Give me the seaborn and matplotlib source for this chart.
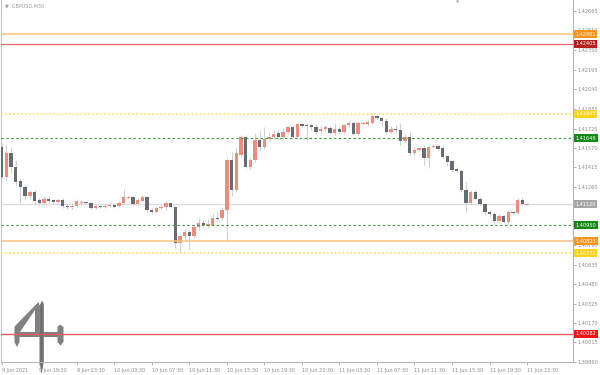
import numpy as np
import pandas as pd
import matplotlib
matplotlib.use("Agg")
import matplotlib.pyplot as plt
import matplotlib.transforms as mtransforms
from matplotlib.patches import Polygon
import seaborn as sns

# ---------------- data (GBPUSD, M30) ----------------
opens = [1.41577, 1.41337, 1.41529, 1.41417, 1.41305, 1.41257, 1.41185, 1.41217, 1.41153, 1.41129,
         1.41161, 1.41153, 1.41137, 1.41153, 1.41105, 1.41097, 1.41105, 1.41129, 1.41137, 1.41129,
         1.41089, 1.41105, 1.41097, 1.41105, 1.41113, 1.41105, 1.41129, 1.41169, 1.41177, 1.41121,
         1.41145, 1.41177, 1.41073, 1.41057, 1.41089, 1.41097, 1.41129, 1.41097, 1.40809, 1.40865,
         1.40897, 1.40865, 1.40937, 1.40969, 1.40945, 1.40953, 1.41009, 1.41009, 1.41073, 1.41473,
         1.41233, 1.41513, 1.41657, 1.41417, 1.41473, 1.41633, 1.41577, 1.41641, 1.41657, 1.41689,
         1.41657, 1.41697, 1.41737, 1.41657, 1.41761, 1.41753, 1.41753, 1.41737, 1.41705, 1.41721,
         1.41729, 1.41689, 1.41721, 1.41697, 1.41753, 1.41769, 1.41681, 1.41761, 1.41761, 1.41769,
         1.41825, 1.41809, 1.41785, 1.41697, 1.41721, 1.41713, 1.41625, 1.41657, 1.41529, 1.41553,
         1.41569, 1.41489, 1.41577, 1.41585, 1.41569, 1.41505, 1.41465, 1.41401, 1.41385, 1.41233,
         1.41129, 1.41217, 1.41161, 1.41121, 1.41057, 1.41041, 1.40985, 1.41025, 1.40977, 1.41057,
         1.41049, 1.41153, 1.41115]
highs = [1.41609, 1.41593, 1.41577, 1.41473, 1.41329, 1.41273, 1.41233, 1.41233, 1.41169, 1.41185,
         1.41177, 1.41161, 1.41169, 1.41169, 1.41121, 1.41129, 1.41161, 1.41153, 1.41145, 1.41145,
         1.41113, 1.41113, 1.41121, 1.41129, 1.41129, 1.41145, 1.41241, 1.41185, 1.41185, 1.41169,
         1.41193, 1.41185, 1.41089, 1.41105, 1.41113, 1.41145, 1.41137, 1.41105, 1.40881, 1.40921,
         1.40913, 1.40953, 1.41009, 1.40993, 1.41001, 1.41049, 1.41057, 1.41097, 1.41497, 1.41537,
         1.41569, 1.41673, 1.41673, 1.41489, 1.41689, 1.41713, 1.41737, 1.41697, 1.41713, 1.41721,
         1.41729, 1.41745, 1.41753, 1.41769, 1.41777, 1.41769, 1.41761, 1.41753, 1.41745, 1.41753,
         1.41745, 1.41769, 1.41737, 1.41761, 1.41785, 1.41785, 1.41785, 1.41785, 1.41793, 1.41841,
         1.41841, 1.41825, 1.41809, 1.41745, 1.41753, 1.41769, 1.41681, 1.41697, 1.41577, 1.41585,
         1.41593, 1.41585, 1.41601, 1.41601, 1.41593, 1.41513, 1.41473, 1.41417, 1.41401, 1.41297,
         1.41233, 1.41233, 1.41177, 1.41129, 1.41073, 1.41057, 1.41041, 1.41033, 1.41073, 1.41065,
         1.41169, 1.41177, 1.41129]
lows = [1.41321, 1.41313, 1.41369, 1.41273, 1.41129, 1.41153, 1.41161, 1.41121, 1.41113, 1.41113,
        1.41129, 1.41121, 1.41129, 1.41089, 1.41081, 1.41081, 1.41097, 1.41113, 1.41121, 1.41081,
        1.41081, 1.41089, 1.41089, 1.41097, 1.41089, 1.41097, 1.41121, 1.41161, 1.41105, 1.41113,
        1.41137, 1.41057, 1.41041, 1.41049, 1.41081, 1.41073, 1.41089, 1.40769, 1.40729, 1.40825,
        1.40753, 1.40849, 1.40913, 1.40937, 1.40929, 1.40945, 1.40985, 1.40993, 1.40817, 1.41185,
        1.41217, 1.41497, 1.41409, 1.41401, 1.41457, 1.41553, 1.41561, 1.41625, 1.41641, 1.41633,
        1.41641, 1.41681, 1.41649, 1.41641, 1.41737, 1.41625, 1.41713, 1.41681, 1.41689, 1.41705,
        1.41673, 1.41673, 1.41681, 1.41681, 1.41737, 1.41673, 1.41665, 1.41753, 1.41745, 1.41761,
        1.41801, 1.41745, 1.41681, 1.41689, 1.41697, 1.41593, 1.41609, 1.41513, 1.41513, 1.41545,
        1.41433, 1.41409, 1.41569, 1.41545, 1.41481, 1.41433, 1.41377, 1.41377, 1.41217, 1.41057,
        1.41113, 1.41153, 1.41105, 1.41041, 1.41025, 1.40961, 1.40977, 1.40969, 1.40961, 1.41041,
        1.41041, 1.41113, 1.41113]
closes = [1.41337, 1.41529, 1.41417, 1.41297, 1.41257, 1.41185, 1.41217, 1.41145, 1.41129, 1.41161,
          1.41145, 1.41137, 1.41153, 1.41105, 1.41097, 1.41105, 1.41145, 1.41137, 1.41129, 1.41089,
          1.41105, 1.41097, 1.41105, 1.41113, 1.41097, 1.41129, 1.41177, 1.41177, 1.41121, 1.41153,
          1.41177, 1.41073, 1.41057, 1.41089, 1.41097, 1.41129, 1.41097, 1.40809, 1.40865, 1.40897,
          1.40865, 1.40937, 1.40969, 1.40953, 1.40961, 1.41009, 1.41001, 1.41073, 1.41473, 1.41233,
          1.41529, 1.41657, 1.41417, 1.41473, 1.41633, 1.41577, 1.41641, 1.41657, 1.41681, 1.41657,
          1.41697, 1.41737, 1.41657, 1.41761, 1.41745, 1.41745, 1.41737, 1.41697, 1.41721, 1.41737,
          1.41689, 1.41721, 1.41697, 1.41753, 1.41769, 1.41681, 1.41769, 1.41769, 1.41777, 1.41825,
          1.41809, 1.41785, 1.41697, 1.41721, 1.41713, 1.41625, 1.41657, 1.41529, 1.41553, 1.41569,
          1.41489, 1.41577, 1.41585, 1.41561, 1.41497, 1.41457, 1.41393, 1.41385, 1.41233, 1.41129,
          1.41217, 1.41161, 1.41121, 1.41057, 1.41041, 1.40985, 1.41025, 1.40977, 1.41057, 1.41049,
          1.41153, 1.41121, 1.41120]

price_ticks = [1.39860, 1.40015, 1.40170, 1.40325, 1.40480, 1.40635, 1.40790, 1.40950, 1.41105,
               1.41260, 1.41415, 1.41570, 1.41725, 1.41885, 1.42040, 1.42195, 1.42350, 1.42510, 1.42665]
hidden_ticks = [1.40950, 1.41105]   # fully covered by level boxes in the reference
time_labels = ['9 Jun 2021', '9 Jun 19:30', '9 Jun 23:30', '10 Jun 03:30', '10 Jun 07:30',
               '10 Jun 11:30', '10 Jun 15:30', '10 Jun 19:30', '10 Jun 23:30', '11 Jun 03:30',
               '11 Jun 07:30', '11 Jun 11:30', '11 Jun 15:30', '11 Jun 19:30', '11 Jun 23:30']
level_prices = [1.42481, 1.42405, 1.41843, 1.41649, 1.41120, 1.40950, 1.40823, 1.40729, 1.40082]
level_texts = ['1.42481', '1.42405', '1.41843', '1.41649', '1.41120', '1.40950', '1.40823', '1.40772', '1.40082']
level_kinds = ['orange', 'darkred', 'yellow', 'green', 'current', 'green', 'orange', 'yellow', 'red']

# ---------------- style ----------------
sns.set_theme(style="white")
plt.rcParams['font.family'] = ['DejaVu Sans']

df = pd.DataFrame({'open': opens, 'high': highs, 'low': lows, 'close': closes})
df['idx'] = np.arange(len(df))
df['up'] = df['close'] >= df['open']

fig = plt.figure(figsize=(6, 3.75), dpi=100, facecolor='white')
ax = fig.add_axes([1 / 600, 13 / 375, 572 / 600, 362 / 375])
ax.patch.set_visible(False)

UP, DOWN, WICK = '#F2897B', '#676B72', '#CDD0D7'
ax.vlines(df['idx'], df['low'], df['high'], color=WICK, lw=0.8, zorder=2)
h = np.maximum((df['close'] - df['open']).abs(), 0.00009)
mid = (df['close'] + df['open']) / 2
ax.bar(df['idx'], h, bottom=mid - h / 2, width=0.72,
       color=np.where(df['up'], UP, DOWN), lw=0, zorder=3)

line_style = {
    'orange': dict(color='#FFC27E', lw=1.1, ls='-', z=4),
    'darkred': dict(color='#E06A6A', lw=0.9, ls='-', z=4),
    'yellow': dict(color='#FFE27A', lw=1.3, ls=(0, (1.0, 1.2)), z=4),
    'green': dict(color='#3E9E3E', lw=0.8, ls=(0, (2.2, 2.2)), z=4),
    'current': dict(color='#D9DBE1', lw=0.9, ls='-', z=1),
    'red': dict(color='#E65A5A', lw=1.0, ls='-', z=4),
}
box_color = {'orange': '#F7941E', 'darkred': '#B3201E', 'yellow': '#FFD21F',
             'green': '#138A13', 'current': '#A6A6A6', 'red': '#EE1515'}

trans = mtransforms.blended_transform_factory(ax.transAxes, ax.transData)
for p, t, k in zip(level_prices, level_texts, level_kinds):
    s = line_style[k]
    ax.axhline(p, color=s['color'], lw=s['lw'], ls=s['ls'], zorder=s['z'])
    ax.text(1.0 + 2.4 / 572, p, t, transform=trans, ha='left', va='center',
            fontsize=3.6, color='white', zorder=10, clip_on=False,
            bbox=dict(boxstyle='square,pad=0.3', fc=box_color[k], ec='none'))

ax.set_xlim(-0.15, 121.8)
ax.set_ylim(1.39857, 1.42753)

ax.yaxis.tick_right()
ax.set_yticks(price_ticks)
ax.set_yticklabels(['' if v in hidden_ticks else f'{v:.5f}' for v in price_ticks])
ax.tick_params(axis='y', right=True, left=False, length=2, width=0.6, color='#A8A8A8',
               labelsize=3.6, labelcolor='#8C8C8C', pad=1)
ax.set_xticks(np.arange(0, 8 * len(time_labels), 8))
ax.set_xticklabels(time_labels, ha='left')
ax.tick_params(axis='x', bottom=True, length=2.5, width=0.6, color='#A8A8A8',
               labelsize=3.5, labelcolor='#8C8C8C', pad=1.5)

for side in ['left', 'bottom', 'right']:
    ax.spines[side].set_visible(True)
    ax.spines[side].set_color('#B4B4B4')
    ax.spines[side].set_linewidth(0.8)
ax.spines['left'].set_color('#C8C8C8')
ax.spines['top'].set_visible(False)

ax.text(4 / 572, 1 - 6 / 362, '\u25BC  GBPUSD,M30', transform=ax.transAxes,
        fontsize=3.5, color='#9C9C9C', ha='left', va='center')
ax.text((458 - 1) / 572, 1 - 2 / 362, '\u25BC', transform=ax.transAxes,
        fontsize=3, color='#A8A8A8', ha='center', va='center')

# ---------------- watermark logo ----------------
def fpts(pts):
    return [(x / 600, 1 - y / 375) for x, y in pts]

logo_col = '#808080'
left_part = [(38.5, 302), (39.8, 306), (39.8, 337), (19.5, 337), (19.5, 342), (17, 347),
             (14.5, 342), (14.5, 327), (16, 325)]
inner = [(34.6, 310), (34.6, 331.8), (20.2, 331.8)]
right_part = [(43.5, 332), (57.5, 332), (57.5, 327), (60, 324.5), (63.5, 327), (63.5, 342),
              (60.5, 345.5), (57.5, 342), (57.5, 337), (43.5, 337)]
stem = [(39.5, 306), (42, 300.5), (43.8, 304), (43.8, 362), (41.6, 374), (39.5, 362)]
for pts, col, z in [(left_part, logo_col, -3), (inner, 'white', -2),
                    (right_part, logo_col, -3), (stem, '#707070', -1)]:
    fig.add_artist(Polygon(fpts(pts), closed=True, transform=fig.transFigure,
                           fc=col, ec='none', zorder=z))

fig.savefig('out.png', dpi=100, facecolor='white')
